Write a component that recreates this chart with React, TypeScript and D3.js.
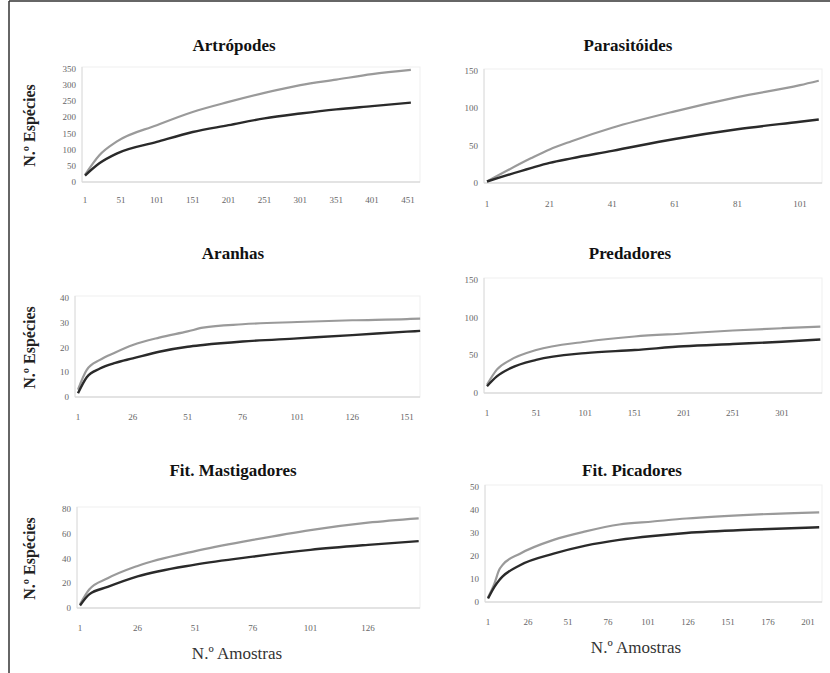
import React from 'react';
import * as d3 from 'd3';

// species accumulation curves
// grey = upper curve, black = lower curve

const artSamples = [1, 21, 45, 101, 151, 201, 251, 301, 351, 401, 455];
const artGrey = [22, 83, 125, 176, 217, 248, 276, 300, 317, 334, 347];
const artBlack = [20, 58, 88, 124, 155, 176, 197, 212, 225, 235, 246];
const artTicksX = [1, 51, 101, 151, 201, 251, 301, 351, 401, 451];
const artTicksY = [0, 50, 100, 150, 200, 250, 300, 350];

const parSamples = [1, 15, 21, 28, 41, 61, 81, 101, 107];
const parGrey = [2, 33, 45, 56, 74, 96, 115, 131, 137];
const parBlack = [2, 20, 27, 33, 43, 59, 72, 82, 85];
const parTicksX = [1, 21, 41, 61, 81, 101];
const parTicksY = [0, 50, 100, 150];

const araSamples = [1, 5, 11, 18, 26, 38, 51, 58, 76, 101, 126, 151, 157];
const araGrey = [3, 11, 15, 18, 21, 24, 26.5, 28, 29.4, 30.3, 31, 31.5, 31.7];
const araBlack = [1.5, 8, 11.5, 13.8, 15.6, 18.3, 20.3, 21, 22.4, 23.7, 25, 26.4, 26.7];
const araTicksX = [1, 26, 51, 76, 101, 126, 151];
const araTicksY = [0, 10, 20, 30, 40];

const preSamples = [1, 11, 25, 51, 101, 151, 201, 251, 301, 340];
const preGrey = [11, 31, 44, 57, 68, 75, 79, 83, 86, 88];
const preBlack = [9, 22, 33, 44, 53, 57, 62, 65, 68, 71];
const preTicksX = [1, 51, 101, 151, 201, 251, 301];
const preTicksY = [0, 50, 100, 150];

const masSamples = [1, 5, 13, 26, 51, 76, 101, 126, 148];
const masGrey = [3, 15, 24, 34, 46, 55, 63, 69, 72.5];
const masBlack = [2, 11, 17, 25.5, 35, 41.5, 47, 51, 54];
const masTicksX = [1, 26, 51, 76, 101, 126];
const masTicksY = [0, 20, 40, 60, 80];

const picSamples = [1, 5, 8, 10, 21, 42, 62, 83, 104, 125, 167, 208];
const picGrey = [2, 8, 14, 16, 21, 27, 30.7, 33.7, 35, 36.3, 38, 39];
const picBlack = [1.5, 6.6, 9.5, 11, 16, 21, 24.5, 27, 28.7, 30, 31.5, 32.5];
const picTicksX = [1, 26, 51, 76, 101, 126, 151, 176, 201];
const picTicksY = [0, 10, 20, 30, 40, 50];

const titles = ['Artrópodes', 'Parasitóides', 'Aranhas', 'Predadores', 'Fit. Mastigadores', 'Fit. Picadores'];

const serif = '"Liberation Serif", "DejaVu Serif", serif';

type PanelDef = {
  title: string;
  samples: number[];
  grey: number[];
  black: number[];
  ticksX: number[];
  ticksY: number[];
  // placement on the page
  px: [number, number]; // pixel of first and last x tick
  py: [number, number]; // pixel of first and last y tick
  right: number;
  titleX: number;
  titleY: number;
  labelY: number;
  yTitle: boolean;
  xTitle: boolean;
};

const panels: PanelDef[] = [
  { title: titles[0], samples: artSamples, grey: artGrey, black: artBlack, ticksX: artTicksX, ticksY: artTicksY,
    px: [85, 408], py: [182, 69], right: 420, titleX: 234, titleY: 51, labelY: 203, yTitle: true, xTitle: false },
  { title: titles[1], samples: parSamples, grey: parGrey, black: parBlack, ticksX: parTicksX, ticksY: parTicksY,
    px: [487, 800], py: [183, 71], right: 822, titleX: 628, titleY: 51, labelY: 207, yTitle: false, xTitle: false },
  { title: titles[2], samples: araSamples, grey: araGrey, black: araBlack, ticksX: araTicksX, ticksY: araTicksY,
    px: [78, 407], py: [397, 298], right: 420, titleX: 233, titleY: 259, labelY: 420, yTitle: true, xTitle: false },
  { title: titles[3], samples: preSamples, grey: preGrey, black: preBlack, ticksX: preTicksX, ticksY: preTicksY,
    px: [487, 782], py: [393, 280], right: 822, titleX: 630, titleY: 259, labelY: 416, yTitle: false, xTitle: false },
  { title: titles[4], samples: masSamples, grey: masGrey, black: masBlack, ticksX: masTicksX, ticksY: masTicksY,
    px: [80, 368], py: [608, 509], right: 420, titleX: 233, titleY: 476, labelY: 631, yTitle: true, xTitle: true },
  { title: titles[5], samples: picSamples, grey: picGrey, black: picBlack, ticksX: picTicksX, ticksY: picTicksY,
    px: [488, 808], py: [602, 487], right: 822, titleX: 632, titleY: 476, labelY: 625, yTitle: false, xTitle: true },
];

const Panel = ({ p }: { p: PanelDef }) => {
  const x = d3.scaleLinear()
    .domain([p.ticksX[0], p.ticksX[p.ticksX.length - 1]])
    .range(p.px);
  const y = d3.scaleLinear()
    .domain([p.ticksY[0], p.ticksY[p.ticksY.length - 1]])
    .range(p.py);

  const line = (vals: number[]) =>
    d3.line<number>()
      .x((_, i) => x(p.samples[i]))
      .y((d) => y(d))
      .curve(d3.curveMonotoneX)(vals) || '';

  const left = x(p.ticksX[0]) - 3;
  const bottom = y(0);
  const top = y(p.ticksY[p.ticksY.length - 1]);

  return (
    <g>
      <text x={p.titleX} y={p.titleY} textAnchor="middle" fontFamily={serif}
        fontWeight="bold" fontSize={17} fill="#111">{p.title}</text>

      {/* faint plot frame */}
      <rect x={left} y={top - 2} width={p.right - left} height={bottom - top + 2}
        fill="none" stroke="#efefef" strokeWidth={1} />
      <line x1={left} x2={p.right} y1={bottom} y2={bottom} stroke="#cfcfcf" strokeWidth={1.2} />
      <line x1={left} x2={left} y1={top - 2} y2={bottom} stroke="#dcdcdc" strokeWidth={1} />

      {p.ticksY.map((t) => (
        <text key={'y' + t} x={left - 6} y={y(t) + 3} textAnchor="end" fontFamily={serif}
          fontSize={9} fill="#666">{t}</text>
      ))}
      {p.ticksX.map((t) => (
        <text key={'x' + t} x={x(t)} y={p.labelY} textAnchor="middle" fontFamily={serif}
          fontSize={9} fill="#666">{t}</text>
      ))}

      <path d={line(p.grey)} fill="none" stroke="#9a9a9a" strokeWidth={2.2} />
      <path d={line(p.black)} fill="none" stroke="#2a2a2a" strokeWidth={2.4} />

      {p.yTitle && (
        <text transform={`translate(35,${(top + bottom) / 2}) rotate(-90)`} textAnchor="middle"
          fontFamily={serif} fontWeight="bold" fontSize={16} fill="#222">N.º Espécies</text>
      )}
      {p.xTitle && (
        <text x={p.titleX + 4} y={p.labelY + 28} textAnchor="middle" fontFamily={serif}
          fontSize={17} fill="#333">N.º Amostras</text>
      )}
    </g>
  );
};

export default function App() {
  return (
    <svg width={830} height={673} style={{ position: 'absolute', left: 0, top: 0 }}>
      <rect x={0} y={0} width={830} height={673} fill="#fff" />
      <line x1={9} x2={9} y1={1} y2={673} stroke="#333" strokeWidth={1.5} />
      <line x1={9} x2={830} y1={1} y2={1} stroke="#333" strokeWidth={1.5} />
      {panels.map((p) => <Panel key={p.title} p={p} />)}
    </svg>
  );
}
